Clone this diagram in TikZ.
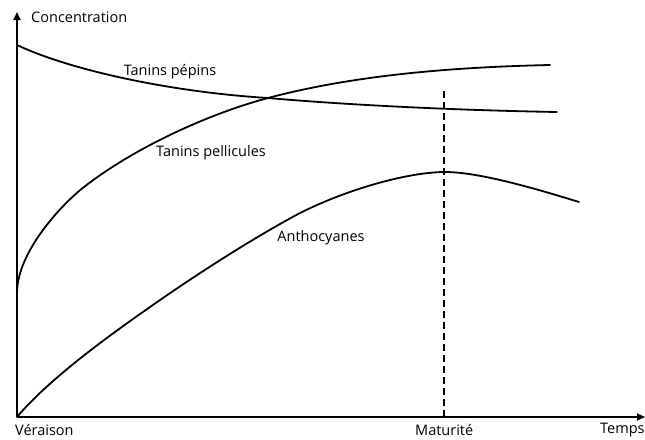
\documentclass[tikz,border=0pt]{standalone}
\usepackage{fontspec}
\setmainfont{Open Sans}
\usetikzlibrary{arrows.meta}
\begin{document}
\begin{tikzpicture}[x=1pt,y=-1pt,
  curve/.style={line width=1.8pt, line cap=round},
  lbl/.style={inner sep=0pt, font=\fontsize{14.5}{16}\selectfont},
  axis/.style={line width=1.8pt, -{Triangle[length=8pt,width=7pt]}}]
\useasboundingbox (0,0) rectangle (645,439);
\coordinate (O) at (17,417);
\coordinate (ytop) at (17,12);
\coordinate (xend) at (645,417);
\draw[axis] (O) -- (ytop);
\draw[axis] (O) -- (xend);
\coordinate (mtop) at (444,91);
\coordinate (mbot) at (444,417);
\draw[line width=1.2pt, dash pattern=on 7pt off 4pt] (mtop) -- (mbot);
% Tanins pepins
\draw[curve] (17,45) .. controls (70,70) and (170,92) .. (268,98)
             .. controls (360,106) and (470,110.5) .. (557,112);
% Tanins pellicules
\draw[curve] (17,293) .. controls (17,252) and (62,204) .. (84,187)
             .. controls (134,148) and (208,114) .. (268,98)
             .. controls (358,74) and (460,67) .. (550,65);
% Anthocyanes
\draw[curve] (17,417) .. controls (50,378) and (110,335) .. (150,307)
             .. controls (200,272) and (255,237) .. (300,213)
             .. controls (350,188) and (410,172) .. (445,172)
             .. controls (480,172) and (540,190) .. (579,202);
\node[lbl, anchor=base west] (conc) at (31,22) {Concentration};
\node[lbl, anchor=base west] (ver) at (15,435) {Véraison};
\node[lbl, anchor=base west] (mat) at (415,435) {Maturité};
\node[lbl, anchor=base west] (temps) at (600,433) {Temps};
\node[lbl] (pep) at (170,72) {Tanins pépins};
\node[lbl] (pel) at (211,153) {Tanins pellicules};
\node[lbl] (anth) at (321,238) {Anthocyanes};
\end{tikzpicture}
\end{document}
